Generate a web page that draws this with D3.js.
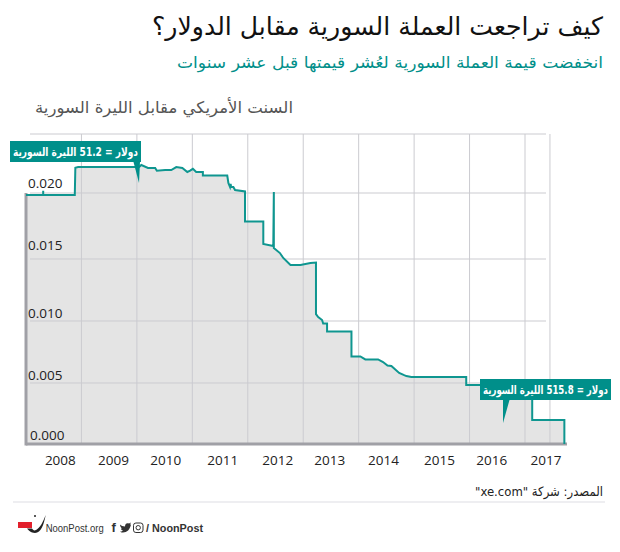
<!DOCTYPE html>
<html>
<head>
<meta charset="utf-8">
<script src="https://cdnjs.cloudflare.com/ajax/libs/d3/7.8.5/d3.min.js"></script>
<style>
  body { margin: 0; background: #fff; }
  text { font-family: "DejaVu Sans", sans-serif; }
  .domain { display: none; }
</style>
</head>
<body>
<div id="chart"></div>
<script>
const dates = [2008, 2008.31, 2008.31, 2008.31, 2008.88, 2008.89, 2008.94, 2010.04, 2010.08, 2010.2, 2010.33, 2010.36, 2010.51, 2010.62,
  2010.71, 2010.82, 2010.91, 2010.96, 2011.01, 2011.07, 2011.19, 2011.19, 2011.63, 2011.65, 2011.68, 2011.69, 2011.7, 2011.74, 2011.77,
  2011.95, 2011.95, 2012.28, 2012.28, 2012.46, 2012.47, 2012.47, 2012.58, 2012.64, 2012.77, 2012.95, 2013.13, 2013.23,
  2013.23, 2013.27, 2013.34, 2013.36, 2013.43, 2013.43, 2013.87, 2013.87, 2014.03, 2014.12, 2014.35, 2014.44, 2014.52,
  2014.59, 2014.73, 2014.81, 2014.86, 2014.95, 2015.94, 2015.94, 2017.13, 2017.13, 2017.71, 2017.71];
const values = [0.01985, 0.01985, 0.0202, 0.01985, 0.01985, 0.02214, 0.0222, 0.0222, 0.02237, 0.02212, 0.02212, 0.02189, 0.02195, 0.02195,
  0.0222, 0.02212, 0.02178, 0.02189, 0.02205, 0.02178, 0.02178, 0.02148, 0.02148, 0.02085, 0.02051, 0.02076, 0.02051, 0.02051, 0.02025,
  0.02013, 0.01784, 0.01784, 0.01614, 0.01598, 0.02008, 0.01583, 0.01545, 0.01508, 0.01452, 0.01452, 0.01468, 0.01472,
  0.01056, 0.01032, 0.01008, 0.0098, 0.0098, 0.00915, 0.00915, 0.00714, 0.00714, 0.0069, 0.0069, 0.00669, 0.00641,
  0.00637, 0.00581, 0.00565, 0.00556, 0.00548, 0.00548, 0.00484, 0.00484, 0.00197, 0.00197, 0];

const yTicks = [0, 0.005, 0.01, 0.015, 0.02];
const yLabels = ['0.000', '0.005', '0.010', '0.015', '0.020'];
const gridYears = [2009, 2010, 2011, 2012, 2013, 2014, 2015, 2016, 2017, 2017.45];
const gridValues = [0.005, 0.01, 0.015, 0.02, 0.025];
const yearLabels = ['2008', '2009', '2010', '2011', '2012', '2013', '2014', '2015', '2016', '2017'];
const yearLabelPos = [2008.61, 2009.57, 2010.51, 2011.54, 2012.53, 2013.47, 2014.44, 2015.45, 2016.39, 2017.37];

const title = 'كيف تراجعت العملة السورية مقابل الدولار؟';
const subtitle = 'انخفضت قيمة العملة السورية لعُشر قيمتها قبل عشر سنوات';
const unitLabel = 'السنت الأمريكي مقابل الليرة السورية';
const source = 'المصدر: شركة "xe.com"';
const calloutHigh = 'دولار = 51.2 الليرة السورية';
const calloutLow = 'دولار = 515.8 الليرة السورية';

const width = 620, height = 552;
const teal = '#008f8a', lineTeal = '#0f9690', axisGray = '#a0a0a6', gridGray = '#cbcbd0';

const svg = d3.select('#chart').append('svg')
  .attr('width', width)
  .attr('height', height)
  .style('display', 'block');

const x = d3.scaleLinear().domain([2008, 2017]).range([26, 525]);
// the printed axis is not evenly spaced, so the scale is piecewise
const y = d3.scaleLinear()
  .domain([0, 0.005, 0.01, 0.015, 0.02, 0.025])
  .range([444, 383, 321, 259, 193, 134]);

// headings: anchor start under rtl means the right edge
function heading(str, right, py, size, color, len) {
  return svg.append('text')
    .attr('x', right).attr('y', py)
    .attr('text-anchor', 'start')
    .attr('direction', 'rtl')
    .attr('font-size', size)
    .attr('fill', color)
    .attr('textLength', len)
    .attr('lengthAdjust', 'spacingAndGlyphs')
    .text(str);
}
heading(title, 603, 35, 25, '#111', 451);
heading(subtitle, 603, 68, 16, teal, 426);
heading(unitLabel, 293, 113, 16, '#555', 258);
heading(source, 603, 496, 13, '#222', 128);

// area, then grid on top of it
const points = dates.map((d, i) => [d, values[i]]);
svg.append('path').datum(points)
  .attr('fill', '#e4e4e4')
  .attr('d', d3.area().x(d => x(d[0])).y0(y(0)).y1(d => y(d[1])));

svg.append('g').selectAll('line').data(gridValues).join('line')
  .attr('x1', 30).attr('x2', 546)
  .attr('y1', d => y(d)).attr('y2', d => y(d))
  .attr('stroke', gridGray).attr('stroke-width', 1);

svg.append('g').selectAll('line').data(gridYears).join('line')
  .attr('x1', d => x(d)).attr('x2', d => x(d))
  .attr('y1', y(0.025)).attr('y2', y(0))
  .attr('stroke', gridGray).attr('stroke-width', 1);

// thick axis lines
svg.append('line').attr('x1', 26).attr('x2', 26).attr('y1', y(0.02)).attr('y2', y(0) + 1.5)
  .attr('stroke', axisGray).attr('stroke-width', 3);
svg.append('line').attr('x1', 26).attr('x2', 567).attr('y1', y(0)).attr('y2', y(0))
  .attr('stroke', axisGray).attr('stroke-width', 3);

// the line
svg.append('path').datum(points)
  .attr('fill', 'none')
  .attr('stroke', lineTeal)
  .attr('stroke-width', 2)
  .attr('d', d3.line().x(d => x(d[0])).y(d => y(d[1])));

// value labels sit just above their gridlines
const yAxis = d3.axisRight(y).tickValues(yTicks).tickSize(0).tickPadding(2)
  .tickFormat((d, i) => yLabels[i]);
const yg = svg.append('g').attr('transform', 'translate(26,0)').call(yAxis);
yg.selectAll('text')
  .attr('font-size', 13.5)
  .attr('fill', '#222')
  .style('font-family', '"Open Sans", sans-serif')
  .attr('dy', (d, i) => [-9, -8, -8, -14, -10][i] + 4.5)
  .attr('x', (d, i) => i === 0 ? 4 : 2);

// year labels
const xAxis = d3.axisBottom(x).tickValues(yearLabelPos).tickSize(0).tickPadding(0)
  .tickFormat((d, i) => yearLabels[i]);
const xg = svg.append('g').attr('transform', 'translate(0,455)').call(xAxis);
xg.selectAll('text')
  .attr('font-size', 13.5)
  .attr('fill', '#222')
  .style('font-family', '"Open Sans", sans-serif');

// callouts
function callout(str, rx, ry, tip, base) {
  svg.append('rect').attr('x', rx).attr('y', ry).attr('width', 131).attr('height', 21).attr('fill', teal);
  svg.append('path').attr('fill', teal)
    .attr('d', `M${base[0]},${ry + 21}L${base[1]},${ry + 21}L${tip[0]},${tip[1]}Z`);
  svg.append('text')
    .attr('x', rx + 128).attr('y', ry + 14.5)
    .attr('text-anchor', 'start')
    .attr('direction', 'rtl')
    .attr('font-size', 11.5)
    .attr('font-weight', 'bold')
    .attr('fill', '#fff')
    .attr('textLength', 125)
    .attr('lengthAdjust', 'spacingAndGlyphs')
    .text(str);
}
callout(calloutHigh, 10, 141, [139, 183], [133.5, 140]);
callout(calloutLow, 480, 379, [503, 423], [503, 509.5]);

// footer
svg.append('line').attr('x1', 13).attr('x2', 605).attr('y1', 502).attr('y2', 502)
  .attr('stroke', '#e8e8ec').attr('stroke-width', 1.5);

const footer = svg.append('g');
const footerFont = '"Liberation Sans", sans-serif';
footer.append('rect').attr('x', 18).attr('y', 522).attr('width', 14).attr('height', 6).attr('fill', '#e2202c');
footer.append('path')
  .attr('d', 'M45.7,515C44,524 41,533 35,533C31,533 28,530 27,528.5L32,528.5C33,530 34,531 36,530C40,528 43,522 45.7,515Z')
  .attr('fill', '#222');
footer.append('circle').attr('cx', 35).attr('cy', 516).attr('r', 1).attr('fill', '#222');
footer.append('text').attr('x', 45.7).attr('y', 531.5)
  .attr('font-size', 10.5).attr('fill', '#333')
  .style('font-family', footerFont)
  .attr('textLength', 58).attr('lengthAdjust', 'spacingAndGlyphs')
  .text('NoonPost.org');
footer.append('text').attr('x', 111.5).attr('y', 532)
  .attr('font-size', 13).attr('font-weight', 'bold').attr('fill', '#333')
  .style('font-family', footerFont)
  .text('f');
footer.append('path')
  .attr('d', 'M101,525C102,526 104,527 106,527C106,524 108,523 110,524L112,523L111,525L112,525C111,530 108,533 104,533C103,533 102,533 101,532C102,532 103,532 104,531C103,531 102,530 102,529L103,529C102,528 101,527 101,525Z')
  .attr('transform', 'translate(19,-0.5)')
  .attr('fill', '#333');
footer.append('rect').attr('x', 133.5).attr('y', 523).attr('width', 9.5).attr('height', 9.5).attr('rx', 2.4)
  .attr('fill', 'none').attr('stroke', '#333').attr('stroke-width', 1);
footer.append('circle').attr('cx', 138.2).attr('cy', 527.7).attr('r', 2.2).attr('fill', 'none').attr('stroke', '#333');
footer.append('text').attr('x', 146).attr('y', 531.5)
  .attr('font-size', 11).attr('font-weight', 'bold').attr('fill', '#333')
  .style('font-family', footerFont)
  .attr('textLength', 57).attr('lengthAdjust', 'spacingAndGlyphs')
  .text('/ NoonPost');
</script>
</body>
</html>
